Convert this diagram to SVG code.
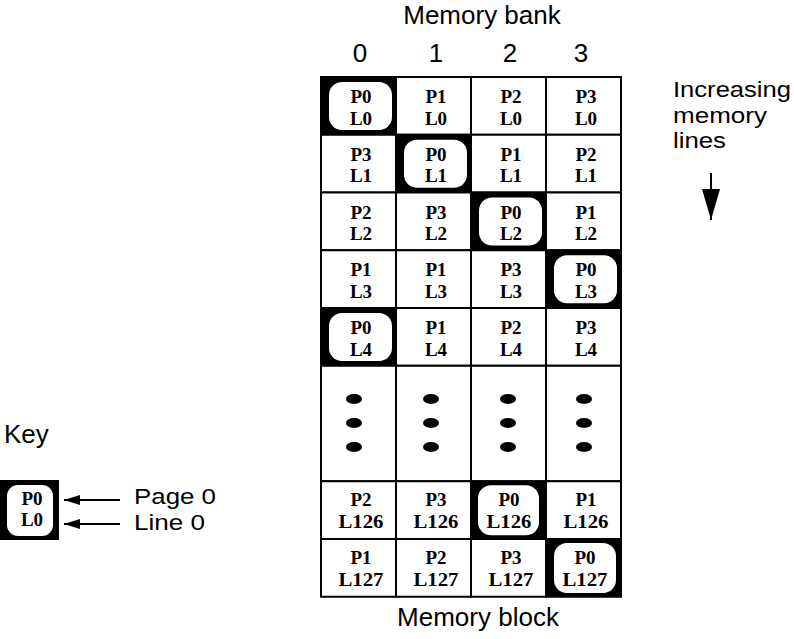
<svg xmlns="http://www.w3.org/2000/svg" width="794" height="639" viewBox="0 0 794 639">
  <style>
    .lbl { font-family: "Liberation Sans", Arial, sans-serif; font-size: 26px; fill: #000; }
    .sm { font-family: "Liberation Sans", Arial, sans-serif; font-size: 22px; fill: #000; }
    .cell { fill: #fff; stroke: #000; stroke-width: 2; }
    .hi { fill: #000; stroke: #000; stroke-width: 2; }
    .pill { fill: #fff; stroke: none; }
    .ct { font-family: "Liberation Serif", "Times New Roman", serif; font-size: 19px; font-weight: bold; fill: #000; text-anchor: middle; }
    .dot { fill: #000; }
    .conn { stroke: #000; stroke-width: 2; fill: none; }
  </style>
  <defs>
    <marker id="head" viewBox="0 0 16 10" refX="16" refY="5" markerWidth="16" markerHeight="10" markerUnits="userSpaceOnUse" orient="auto">
      <path d="M0,0 L16,5 L0,10 Z" fill="#000"/>
    </marker>
    <marker id="headBig" viewBox="0 0 18 31" refX="9" refY="31" markerWidth="18" markerHeight="31" markerUnits="userSpaceOnUse" orient="0">
      <path d="M0,0 L18,0 L9,31 Z" fill="#000"/>
    </marker>
  </defs>

  <!-- headings -->
  <text class="lbl" x="482" y="24" text-anchor="middle">Memory bank</text>
  <g class="lbl" text-anchor="middle">
    <text x="360" y="62">0</text>
    <text x="436" y="62">1</text>
    <text x="510" y="62">2</text>
    <text x="581" y="62">3</text>
  </g>
  <text class="sm" x="673" y="97" textLength="118" lengthAdjust="spacingAndGlyphs">Increasing</text>
  <text class="sm" x="673" y="122.5" textLength="94" lengthAdjust="spacingAndGlyphs">memory</text>
  <text class="sm" x="673" y="148" textLength="53" lengthAdjust="spacingAndGlyphs">lines</text>
  <text class="lbl" x="478" y="626" text-anchor="middle">Memory block</text>
  <text class="lbl" x="4" y="443">Key</text>
  <text class="sm" x="134" y="504" textLength="82" lengthAdjust="spacingAndGlyphs">Page 0</text>
  <text class="sm" x="134" y="529.5" textLength="71" lengthAdjust="spacingAndGlyphs">Line 0</text>

  <!-- row 0 -->
  <g id="c0-0"><rect class="hi" x="321" y="77" width="75" height="57.75"/><rect class="pill" x="329" y="82" width="63" height="48" rx="13"/><text class="ct" x="361" y="103">P0</text><text class="ct" x="361" y="124.5">L0</text></g>
  <g id="c0-1"><rect class="cell" x="396" y="77" width="75" height="57.75"/><text class="ct" x="436" y="103">P1</text><text class="ct" x="436" y="124.5">L0</text></g>
  <g id="c0-2"><rect class="cell" x="471" y="77" width="75" height="57.75"/><text class="ct" x="511" y="103">P2</text><text class="ct" x="511" y="124.5">L0</text></g>
  <g id="c0-3"><rect class="cell" x="546" y="77" width="75" height="57.75"/><text class="ct" x="586" y="103">P3</text><text class="ct" x="586" y="124.5">L0</text></g>

  <!-- row 1 -->
  <g id="c1-0"><rect class="cell" x="321" y="134.75" width="75" height="57.75"/><text class="ct" x="361" y="160.75">P3</text><text class="ct" x="361" y="182.25">L1</text></g>
  <g id="c1-1"><rect class="hi" x="396" y="134.75" width="75" height="57.75"/><rect class="pill" x="404" y="139.75" width="63" height="48" rx="13"/><text class="ct" x="436" y="160.75">P0</text><text class="ct" x="436" y="182.25">L1</text></g>
  <g id="c1-2"><rect class="cell" x="471" y="134.75" width="75" height="57.75"/><text class="ct" x="511" y="160.75">P1</text><text class="ct" x="511" y="182.25">L1</text></g>
  <g id="c1-3"><rect class="cell" x="546" y="134.75" width="75" height="57.75"/><text class="ct" x="586" y="160.75">P2</text><text class="ct" x="586" y="182.25">L1</text></g>

  <!-- row 2 -->
  <g id="c2-0"><rect class="cell" x="321" y="192.5" width="75" height="57.75"/><text class="ct" x="361" y="218.5">P2</text><text class="ct" x="361" y="240">L2</text></g>
  <g id="c2-1"><rect class="cell" x="396" y="192.5" width="75" height="57.75"/><text class="ct" x="436" y="218.5">P3</text><text class="ct" x="436" y="240">L2</text></g>
  <g id="c2-2"><rect class="hi" x="471" y="192.5" width="75" height="57.75"/><rect class="pill" x="479" y="197.5" width="63" height="48" rx="13"/><text class="ct" x="511" y="218.5">P0</text><text class="ct" x="511" y="240">L2</text></g>
  <g id="c2-3"><rect class="cell" x="546" y="192.5" width="75" height="57.75"/><text class="ct" x="586" y="218.5">P1</text><text class="ct" x="586" y="240">L2</text></g>

  <!-- row 3 -->
  <g id="c3-0"><rect class="cell" x="321" y="250.25" width="75" height="57.75"/><text class="ct" x="361" y="276.25">P1</text><text class="ct" x="361" y="297.75">L3</text></g>
  <g id="c3-1"><rect class="cell" x="396" y="250.25" width="75" height="57.75"/><text class="ct" x="436" y="276.25">P1</text><text class="ct" x="436" y="297.75">L3</text></g>
  <g id="c3-2"><rect class="cell" x="471" y="250.25" width="75" height="57.75"/><text class="ct" x="511" y="276.25">P3</text><text class="ct" x="511" y="297.75">L3</text></g>
  <g id="c3-3"><rect class="hi" x="546" y="250.25" width="75" height="57.75"/><rect class="pill" x="554" y="255.25" width="63" height="48" rx="13"/><text class="ct" x="586" y="276.25">P0</text><text class="ct" x="586" y="297.75">L3</text></g>

  <!-- row 4 -->
  <g id="c4-0"><rect class="hi" x="321" y="308" width="75" height="57.75"/><rect class="pill" x="329" y="313" width="63" height="48" rx="13"/><text class="ct" x="361" y="334">P0</text><text class="ct" x="361" y="355.5">L4</text></g>
  <g id="c4-1"><rect class="cell" x="396" y="308" width="75" height="57.75"/><text class="ct" x="436" y="334">P1</text><text class="ct" x="436" y="355.5">L4</text></g>
  <g id="c4-2"><rect class="cell" x="471" y="308" width="75" height="57.75"/><text class="ct" x="511" y="334">P2</text><text class="ct" x="511" y="355.5">L4</text></g>
  <g id="c4-3"><rect class="cell" x="546" y="308" width="75" height="57.75"/><text class="ct" x="586" y="334">P3</text><text class="ct" x="586" y="355.5">L4</text></g>

  <!-- elided rows -->
  <g id="gap-0"><rect class="cell" x="321" y="365.75" width="75" height="115.5"/><ellipse class="dot" cx="354" cy="399" rx="8" ry="5"/><ellipse class="dot" cx="354" cy="423" rx="8" ry="5"/><ellipse class="dot" cx="354" cy="447" rx="8" ry="5"/></g>
  <g id="gap-1"><rect class="cell" x="396" y="365.75" width="75" height="115.5"/><ellipse class="dot" cx="431" cy="399" rx="8" ry="5"/><ellipse class="dot" cx="431" cy="423" rx="8" ry="5"/><ellipse class="dot" cx="431" cy="447" rx="8" ry="5"/></g>
  <g id="gap-2"><rect class="cell" x="471" y="365.75" width="75" height="115.5"/><ellipse class="dot" cx="508" cy="399" rx="8" ry="5"/><ellipse class="dot" cx="508" cy="423" rx="8" ry="5"/><ellipse class="dot" cx="508" cy="447" rx="8" ry="5"/></g>
  <g id="gap-3"><rect class="cell" x="546" y="365.75" width="75" height="115.5"/><ellipse class="dot" cx="584" cy="399" rx="8" ry="5"/><ellipse class="dot" cx="584" cy="423" rx="8" ry="5"/><ellipse class="dot" cx="584" cy="447" rx="8" ry="5"/></g>

  <!-- row 126 -->
  <g id="c126-0"><rect class="cell" x="321" y="481.25" width="75" height="57.75"/><text class="ct" x="361" y="506.25">P2</text><text class="ct" x="361" y="528.25" textLength="45" lengthAdjust="spacingAndGlyphs">L126</text></g>
  <g id="c126-1"><rect class="cell" x="396" y="481.25" width="75" height="57.75"/><text class="ct" x="436" y="506.25">P3</text><text class="ct" x="436" y="528.25" textLength="45" lengthAdjust="spacingAndGlyphs">L126</text></g>
  <g id="c126-2"><rect class="hi" x="471" y="481.25" width="75" height="57.75"/><rect class="pill" x="478" y="485.25" width="61" height="50" rx="13"/><text class="ct" x="509" y="506.25">P0</text><text class="ct" x="509" y="528.25" textLength="45" lengthAdjust="spacingAndGlyphs">L126</text></g>
  <g id="c126-3"><rect class="cell" x="546" y="481.25" width="75" height="57.75"/><text class="ct" x="586" y="506.25">P1</text><text class="ct" x="586" y="528.25" textLength="45" lengthAdjust="spacingAndGlyphs">L126</text></g>

  <!-- row 127 -->
  <g id="c127-0"><rect class="cell" x="321" y="539" width="75" height="57.75"/><text class="ct" x="361" y="564">P1</text><text class="ct" x="361" y="586" textLength="45" lengthAdjust="spacingAndGlyphs">L127</text></g>
  <g id="c127-1"><rect class="cell" x="396" y="539" width="75" height="57.75"/><text class="ct" x="436" y="564">P2</text><text class="ct" x="436" y="586" textLength="45" lengthAdjust="spacingAndGlyphs">L127</text></g>
  <g id="c127-2"><rect class="cell" x="471" y="539" width="75" height="57.75"/><text class="ct" x="511" y="564">P3</text><text class="ct" x="511" y="586" textLength="45" lengthAdjust="spacingAndGlyphs">L127</text></g>
  <g id="c127-3"><rect class="hi" x="546" y="539" width="75" height="57.75"/><rect class="pill" x="554" y="543" width="62" height="50" rx="13"/><text class="ct" x="585" y="564">P0</text><text class="ct" x="585" y="586" textLength="45" lengthAdjust="spacingAndGlyphs">L127</text></g>

  <!-- key sample cell -->
  <g id="key">
    <rect x="0" y="480" width="59" height="60" fill="#000"/>
    <rect class="pill" x="7" y="485" width="46" height="51" rx="11"/>
    <text class="ct" x="32" y="504.5">P0</text>
    <text class="ct" x="32" y="526">L0</text>
  </g>

  <!-- connectors -->
  <g id="connectors">
    <line class="conn" x1="711" y1="173" x2="711" y2="220" marker-end="url(#headBig)"/>
    <line class="conn" x1="120" y1="500" x2="64" y2="500" marker-end="url(#head)"/>
    <line class="conn" x1="120" y1="524" x2="64" y2="524" marker-end="url(#head)"/>
  </g>
</svg>
